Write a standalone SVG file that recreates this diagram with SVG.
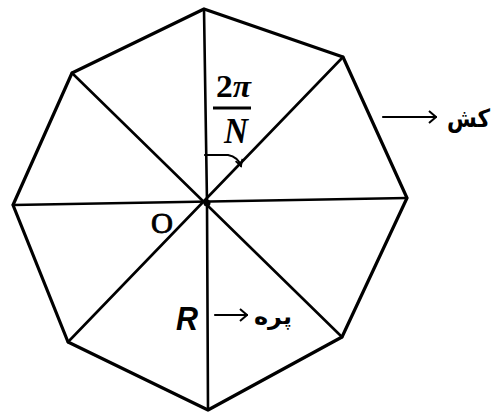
<svg xmlns="http://www.w3.org/2000/svg" width="496" height="414" viewBox="0 0 496 414">
<style>
.edge{fill:none;stroke:#000;stroke-width:3.2;stroke-linejoin:round;stroke-linecap:round}
.spoke{fill:none;stroke:#000;stroke-width:2.6;stroke-linecap:round}
.arr{fill:none;stroke:#000;stroke-width:2.2;stroke-linecap:round;stroke-linejoin:round}
.serif{font-family:"Liberation Serif","DejaVu Serif",serif;fill:#000}
.sans{font-family:"Liberation Sans","DejaVu Sans",sans-serif;fill:#000}
.fa{font-family:"DejaVu Sans","Noto Sans",sans-serif;fill:#000;font-weight:bold}
</style>
<defs>
<marker id="open" viewBox="0 0 10 14" refX="9" refY="7" markerWidth="10" markerHeight="14" markerUnits="userSpaceOnUse" orient="auto">
<path d="M2,1 L9,7 L2,13" fill="none" stroke="#000" stroke-width="2"/>
</marker>
<marker id="hook" viewBox="0 0 10 10" refX="8" refY="5" markerWidth="9" markerHeight="9" markerUnits="userSpaceOnUse" orient="auto">
<path d="M1,1 L8,5 L1,9" fill="none" stroke="#000" stroke-width="2"/>
</marker>
</defs>
<rect width="496" height="414" fill="#fff"/>
<g id="octagon">
<polygon class="edge" points="204,9 343,57 407,198 342,337 208,410 68,342 13,205 72,73"/>
</g>
<g id="spokes">
<line class="spoke" x1="204" y1="9" x2="207" y2="203"/>
<line class="spoke" x1="207" y1="203" x2="208" y2="410"/>
<line class="spoke" x1="13" y1="205" x2="407" y2="198"/>
<line class="spoke" x1="72" y1="73" x2="342" y2="337"/>
<line class="spoke" x1="343" y1="57" x2="68" y2="342"/>
<circle cx="207" cy="203" r="3.5" fill="#000"/>
</g>
<g id="center-O">
<text class="serif" x="151" y="233" font-size="29" stroke="#000" stroke-width="0.8" textLength="22" lengthAdjust="spacingAndGlyphs">O</text>
</g>
<g id="angle-label">
<text class="serif" x="216" y="97" font-size="31" font-weight="bold" textLength="35" lengthAdjust="spacingAndGlyphs">2<tspan font-style="italic">π</tspan></text>
<line x1="213" y1="108" x2="251" y2="108" stroke="#000" stroke-width="3"/>
<text class="serif" x="224" y="143" font-size="36" font-style="italic" font-weight="bold" textLength="24" lengthAdjust="spacingAndGlyphs">N</text>
</g>
<g id="radius-R">
<text class="sans" x="176" y="330" font-size="33" font-weight="bold" font-style="italic" textLength="22" lengthAdjust="spacingAndGlyphs">R</text>
</g>
<g id="label-pare">
<text class="fa" x="254" y="324" font-size="23" textLength="38" lengthAdjust="spacingAndGlyphs">پره</text>
</g>
<g id="label-kesh">
<text class="fa" x="447" y="127" font-size="25" textLength="43" lengthAdjust="spacingAndGlyphs">کش</text>
</g>
<g id="connectors">
<path class="arr" d="M205,155 L228,155 Q238,157 241,166" marker-end="url(#hook)"/>
<line class="arr" x1="383" y1="117" x2="436" y2="117" marker-end="url(#open)"/>
<line class="arr" x1="215" y1="315" x2="247" y2="315" marker-end="url(#open)"/>
</g>
</svg>
